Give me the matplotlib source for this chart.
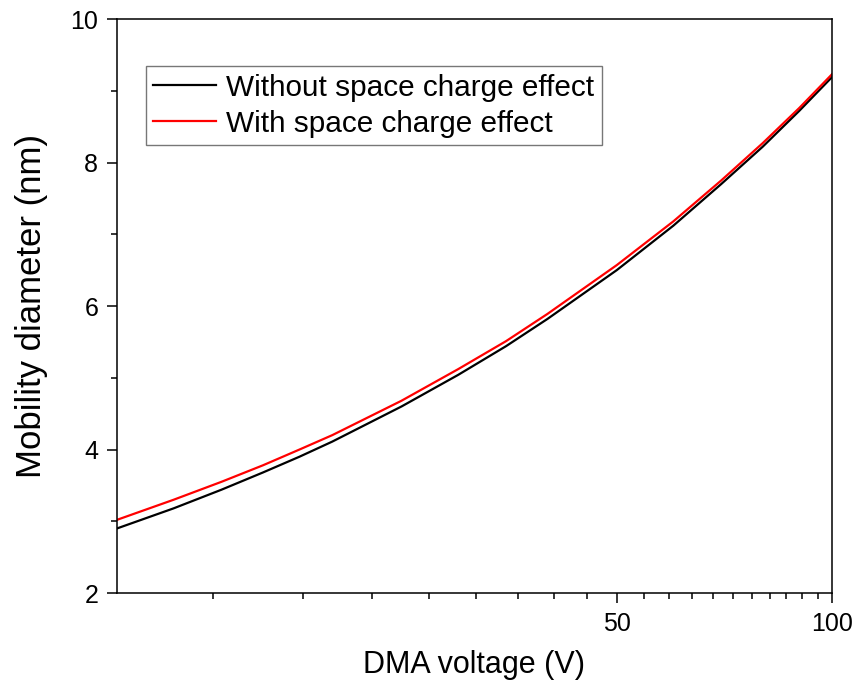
import numpy as np
import matplotlib
matplotlib.use("Agg")
import matplotlib.pyplot as plt
from matplotlib.ticker import FixedLocator, NullFormatter, FixedFormatter

plt.rcParams['font.family'] = ['Liberation Sans', 'DejaVu Sans']

# DMA voltage (V) and mobility diameter (nm)
voltage = [10, 12, 14, 16, 18, 20, 25, 30, 35, 40, 50, 60, 70, 80, 90, 100]
d_without = [2.90, 3.18, 3.44, 3.68, 3.90, 4.11, 4.60, 5.04, 5.44, 5.82,
             6.50, 7.12, 7.70, 8.22, 8.72, 9.19]
d_with = [3.02, 3.30, 3.55, 3.78, 4.00, 4.20, 4.68, 5.12, 5.51, 5.89,
          6.57, 7.18, 7.75, 8.27, 8.76, 9.23]

x_major = [50, 100]
x_major_labels = ["50", "100"]
y_major = [2, 4, 6, 8, 10]
y_minor = [3, 5, 7, 9]

fig = plt.figure(figsize=(8.52, 6.84), dpi=100)
ax = fig.add_axes([0.1373, 0.1330, 0.8392, 0.8392])

ax.plot(voltage, d_without, color="black", lw=1.6, label="Without space charge effect")
ax.plot(voltage, d_with, color="#ff0000", lw=1.6, label="With space charge effect")

ax.set_xscale("log")
ax.set_xlim(10, 100)
ax.set_ylim(2, 10)

# minor ticks every 50/11 as in the original axis
step = 50 / 11
x_minor = [50 + k * step for k in range(1, 11)] + [50 - k * step for k in range(1, 9)]
ax.xaxis.set_major_locator(FixedLocator(x_major))
ax.xaxis.set_major_formatter(FixedFormatter(x_major_labels))
ax.xaxis.set_minor_locator(FixedLocator(x_minor))
ax.xaxis.set_minor_formatter(NullFormatter())
ax.yaxis.set_major_locator(FixedLocator(y_major))
ax.yaxis.set_minor_locator(FixedLocator(y_minor))

ax.tick_params(which="both", direction="out", width=1.1, top=False, right=False)
ax.tick_params(which="major", length=7.5, labelsize=18, pad=6)
ax.tick_params(which="minor", length=4)
for s in ax.spines.values():
    s.set_linewidth(1.1)

ax.set_xlabel("DMA voltage (V)", fontsize=22, labelpad=10)
ax.set_ylabel("Mobility diameter (nm)", fontsize=25, labelpad=16)

leg = ax.legend(loc="upper left", bbox_to_anchor=(0.0406, 0.918), borderaxespad=0,
                fontsize=21.4, frameon=True, fancybox=False, handlelength=2.1,
                handletextpad=0.35, borderpad=0.25, labelspacing=0.28)
leg.get_frame().set_edgecolor("#555555")
leg.get_frame().set_linewidth(1.0)

fig.savefig("out.png", dpi=100)
